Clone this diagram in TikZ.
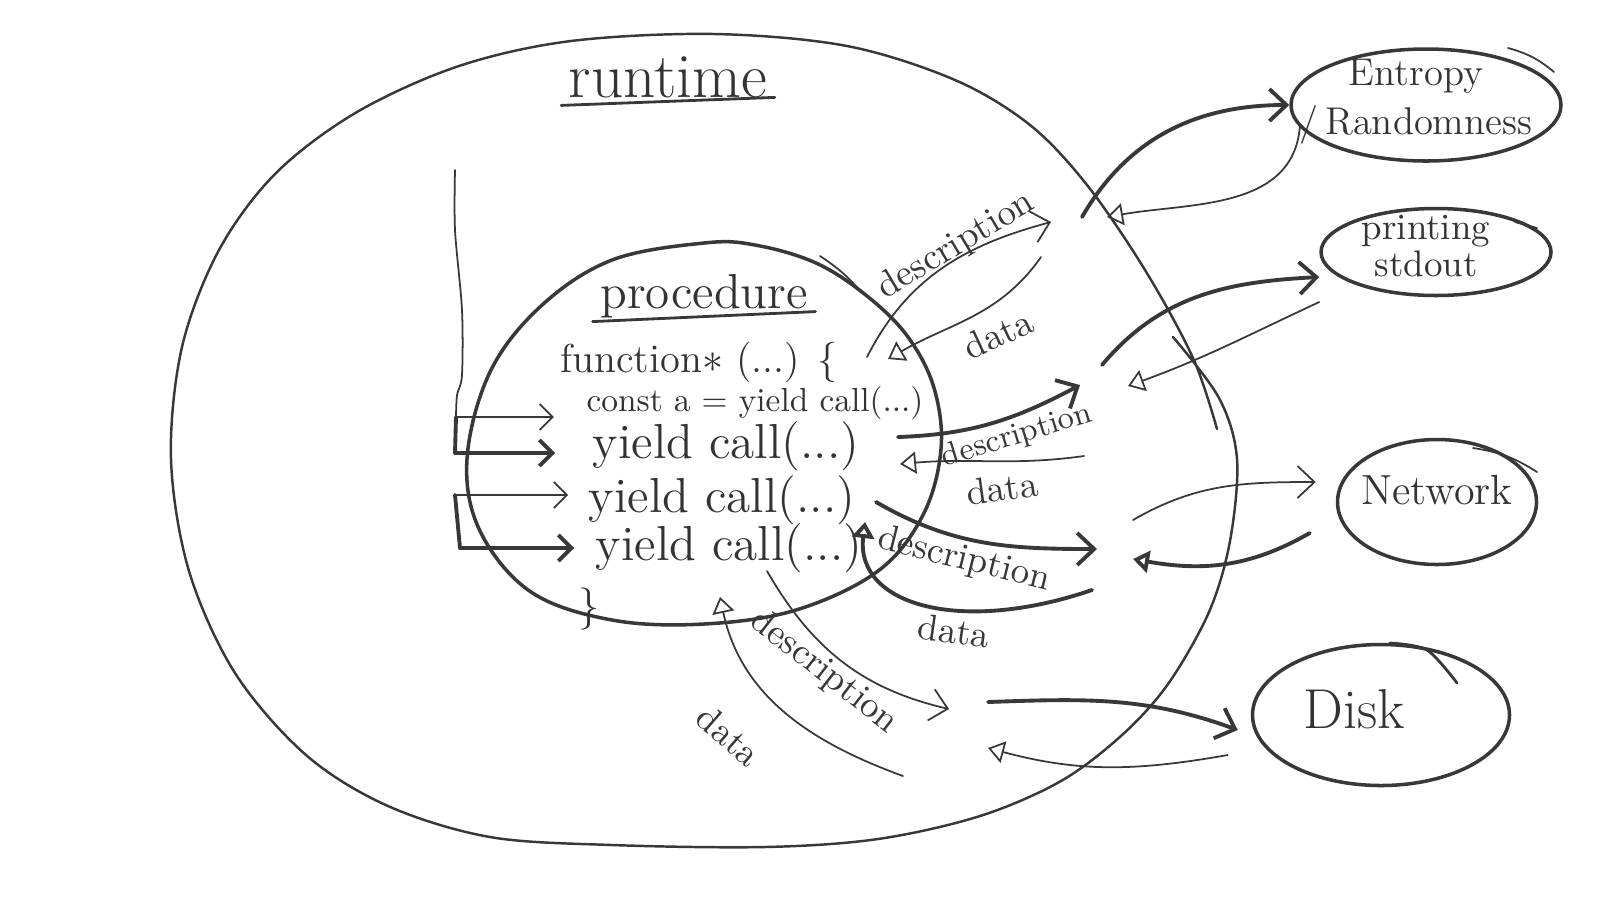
\documentclass[tikz,border=0pt]{standalone}
\usepackage{xcolor}
\usepackage{tikz}
\usetikzlibrary{shapes.geometric, arrows.meta}

\begin{document}
\begin{tikzpicture}[
  pen/.style={draw=black!78, line cap=round, line join=round},
  thinpen/.style={pen, line width=0.5pt},
  thickpen/.style={pen, line width=1.1pt},
  outhead/.style={-{Straight Barb[length=1.7mm, width=3.2mm]}},
  backhead/.style={-{Triangle[open, length=1.6mm, width=2.2mm]}},
  callhead/.style={-{Straight Barb[length=1.3mm, width=2.6mm]}},
  sysbox/.style={ellipse, draw=black!78, line width=1pt, inner sep=0pt},
  boxtext/.style={text=black!80, align=center, font=\fontsize{11}{14}\selectfont},
  codeline/.style={text=black!80, inner sep=2pt},
  msg/.style={text=black!78, inner sep=0pt, font=\fontsize{10.5}{12}\selectfont}
]
\useasboundingbox (0,0) rectangle (16,-9);

\draw[pen, line width=0.7pt] plot[smooth, tension=0.55] coordinates {
  (11.73,-3.37) (12.19,-3.98) (12.37,-4.59) (12.30,-5.41) (12.09,-6.12)
  (11.68,-6.84) (11.22,-7.35) (10.61,-7.81) (9.80,-8.16) (8.78,-8.39)
  (7.65,-8.47) (6.12,-8.45) (4.90,-8.37) (3.88,-8.06) (3.06,-7.55)
  (2.35,-6.73) (1.89,-5.71) (1.71,-4.59) (1.82,-3.47) (2.19,-2.50)
  (2.76,-1.73) (3.57,-1.12) (4.59,-0.66) (5.71,-0.41) (7.14,-0.34)
  (8.47,-0.46) (9.55,-0.80) (10.30,-1.25) (10.87,-1.85) (11.45,-2.70)
  (11.93,-3.58) (12.17,-4.29)};
\node[codeline, font=\fontsize{18}{20}\selectfont] (rtitle) at (6.68,-0.77) {runtime};
\draw[thickpen, line width=0.8pt] (rtitle.south west) -- ([yshift=0.8mm]rtitle.south east);

\draw[pen, line width=1pt] plot[smooth cycle, tension=0.6] coordinates {
  (7.04,-2.43) (6.12,-2.60) (5.41,-3.06) (4.90,-3.72) (4.67,-4.59)
  (4.80,-5.31) (5.31,-5.92) (6.12,-6.20) (7.04,-6.24) (7.96,-6.10)
  (8.78,-5.71) (9.23,-5.15) (9.41,-4.49) (9.34,-3.88) (9.08,-3.37)
  (8.67,-2.96) (8.16,-2.63) (7.55,-2.45)};
\draw[thinpen] (8.20,-2.56) to[bend left=8] (8.62,-2.93);
\node[codeline, font=\fontsize{14}{16}\selectfont] (ptitle) at (7.04,-2.96) {procedure};
\draw[thickpen, line width=0.8pt] ([yshift=0.4mm]ptitle.south west) -- ([yshift=1.4mm]ptitle.south east);

\node[codeline, font=\fontsize{11.5}{13}\selectfont] (fn) at (6.99,-3.62) {function$\ast$ (...) \{};
\node[codeline, font=\fontsize{9.5}{11}\selectfont] (c0) at (7.55,-4.03) {const a = yield call(...)};
\node[codeline, font=\fontsize{14}{16}\selectfont] (c1) at (7.26,-4.46) {yield call(...)};
\node[codeline, font=\fontsize{14}{16}\selectfont] (c2) at (7.22,-5.00) {yield call(...)};
\node[codeline, font=\fontsize{14}{16}\selectfont] (c3) at (7.29,-5.48) {yield call(...)};
\node[codeline, font=\fontsize{12}{14}\selectfont] (fnend) at (5.89,-6.09) {\}};

\coordinate (b0) at (4.56,-4.17);
\coordinate (b1) at (4.55,-4.53);
\coordinate (b2) at (4.55,-4.95);
\coordinate (b3) at (4.60,-5.48);
\draw[thinpen] plot[smooth] coordinates {(4.55,-1.70) (4.55,-2.30) (4.62,-3.10) (4.62,-3.75) (4.57,-3.95) (4.56,-4.17)};
\draw[thickpen] (b0) -- (b1);
\draw[thickpen] (b2) -- (b3);
\draw[thinpen, callhead, shorten >=2.5mm] (b0) -- (b0 -| c0.west);
\draw[thickpen, callhead, shorten >=3mm] (b1) -- (b1 -| c1.west);
\draw[thinpen, callhead, shorten >=1.3mm] (b2) -- (b2 -| c2.west);
\draw[thickpen, callhead, shorten >=1.4mm] (b3) -- (b3 -| c3.west);

\node[sysbox, minimum width=2.7cm, minimum height=1.12cm,
  label={[boxtext, xshift=-1mm, yshift=0.3mm]center:Entropy\\/\,Randomness}] (entropy) at (14.26,-1.05) {};
\node[sysbox, minimum width=2.3cm, minimum height=0.87cm,
  label={[boxtext, xshift=-1mm, yshift=0.6mm, font=\fontsize{10.5}{10.5}\selectfont]center:printing\\stdout}] (stdout) at (14.36,-2.52) {};
\node[sysbox, minimum width=1.99cm, minimum height=1.25cm,
  label={[boxtext, yshift=1.2mm, font=\fontsize{12}{14}\selectfont]center:Network}] (network) at (14.37,-5.02) {};
\node[sysbox, minimum width=2.57cm, minimum height=1.41cm,
  label={[boxtext, xshift=-2.7mm, yshift=0.6mm, font=\fontsize{16}{18}\selectfont]center:Disk}] (disk) at (13.81,-7.15) {};
\draw[thinpen] (15.08,-0.48) to[bend left=12] (15.54,-0.72);
\draw[thinpen] (15.15,-2.22) -- (15.37,-2.28);
\draw[thinpen] (14.73,-4.48) to[bend left=12] (15.37,-4.72);
\draw[thickpen, line width=0.8pt] plot[smooth] coordinates {(13.90,-6.43) (14.27,-6.50) (14.57,-6.83)};

% runtime to the outside
\coordinate (ent-o) at (10.82,-2.17);
\coordinate (ent-i) at (11.07,-2.17);
\coordinate (out-o) at (11.02,-3.65);
\coordinate (out-i) at (11.28,-3.86);
\coordinate (net-o) at (11.33,-5.20);
\coordinate (net-i) at (11.33,-5.59);
\coordinate (dsk-o) at (9.88,-7.02);
\coordinate (dsk-i) at (9.88,-7.48);
\draw[thickpen, outhead] (ent-o) to[out=60, in=180] (entropy.west);
\draw[thinpen, backhead] (entropy.190) to[out=265, in=10] (ent-i);
\draw[thickpen, outhead] (out-o) to[out=50, in=183] ([yshift=-2.5mm]stdout.west);
\draw[thinpen, backhead] ([yshift=-5mm]stdout.west) to[out=205, in=20] (out-i);
\draw[thinpen, outhead] (net-o) to[out=30, in=180] ([xshift=-2mm, yshift=2mm]network.west);
\draw[thickpen, backhead] ([xshift=-2.6mm, yshift=-3.1mm]network.west) to[out=210, in=-10] (net-i);
\draw[thickpen, outhead] (dsk-o) to[out=2, in=160] ([xshift=-1.3mm, yshift=-1.5mm]disk.west);
\draw[thinpen, backhead] ([xshift=-2.3mm, yshift=-4mm]disk.west) to[out=190, in=-15] (dsk-i);

% procedure to runtime
\coordinate (fn-o) at (8.67,-3.57);
\coordinate (fn-i) at (8.88,-3.59);
\coordinate (c1-o) at (8.98,-4.37);
\coordinate (c1-i) at (9.00,-4.64);
\coordinate (c2-o) at (8.76,-5.02);
\coordinate (c3-i) at (8.65,-5.22);
\coordinate (c3-o) at (7.67,-5.71);
\coordinate (c3-b) at (7.20,-5.97);
\coordinate (ent-d) at (10.51,-2.22);
\coordinate (ent-a) at (10.41,-2.57);
\coordinate (out-d) at (10.80,-3.85);
\coordinate (out-a) at (10.84,-4.56);
\coordinate (net-d) at (10.97,-5.49);
\coordinate (net-a) at (10.92,-5.90);
\coordinate (dsk-d) at (9.49,-7.09);
\coordinate (dsk-a) at (9.03,-7.76);
\draw[thinpen, outhead] (fn-o) to[out=63, in=195] (ent-d);
\draw[thinpen, backhead] (ent-a) to[out=235, in=30] (fn-i);
\draw[thickpen, outhead] (c1-o) to[out=2, in=208] (out-d);
\draw[thinpen, backhead] (out-a) to[out=188, in=5] (c1-i);
\draw[thickpen, outhead] (c2-o) to[out=-30, in=180] (net-d);
\draw[thickpen, backhead] (net-a) .. controls (9.6,-6.35) and (8.55,-6.05) .. (c3-i);
\draw[thinpen, outhead] (c3-o) to[out=-60, in=167] (dsk-d);
\draw[thinpen, backhead] (dsk-a) to[out=160, in=-78] (c3-b);

\node[msg, rotate=31] (d1) at (9.56,-2.46) {description};
\node[msg, rotate=25] (a1) at (9.98,-3.34) {data};
\node[msg, rotate=17, font=\fontsize{9}{10}\selectfont] (d2) at (10.17,-4.36) {description};
\node[msg, rotate=8] (a2) at (10.02,-4.88) {data};
\node[msg, rotate=-14] (d3) at (9.64,-5.60) {description};
\node[msg, rotate=-8] (a3) at (9.54,-6.31) {data};
\node[msg, rotate=-38] (d4) at (8.24,-6.72) {description};
\node[msg, rotate=-41] (a4) at (7.29,-7.36) {data};
\end{tikzpicture}
\end{document}
